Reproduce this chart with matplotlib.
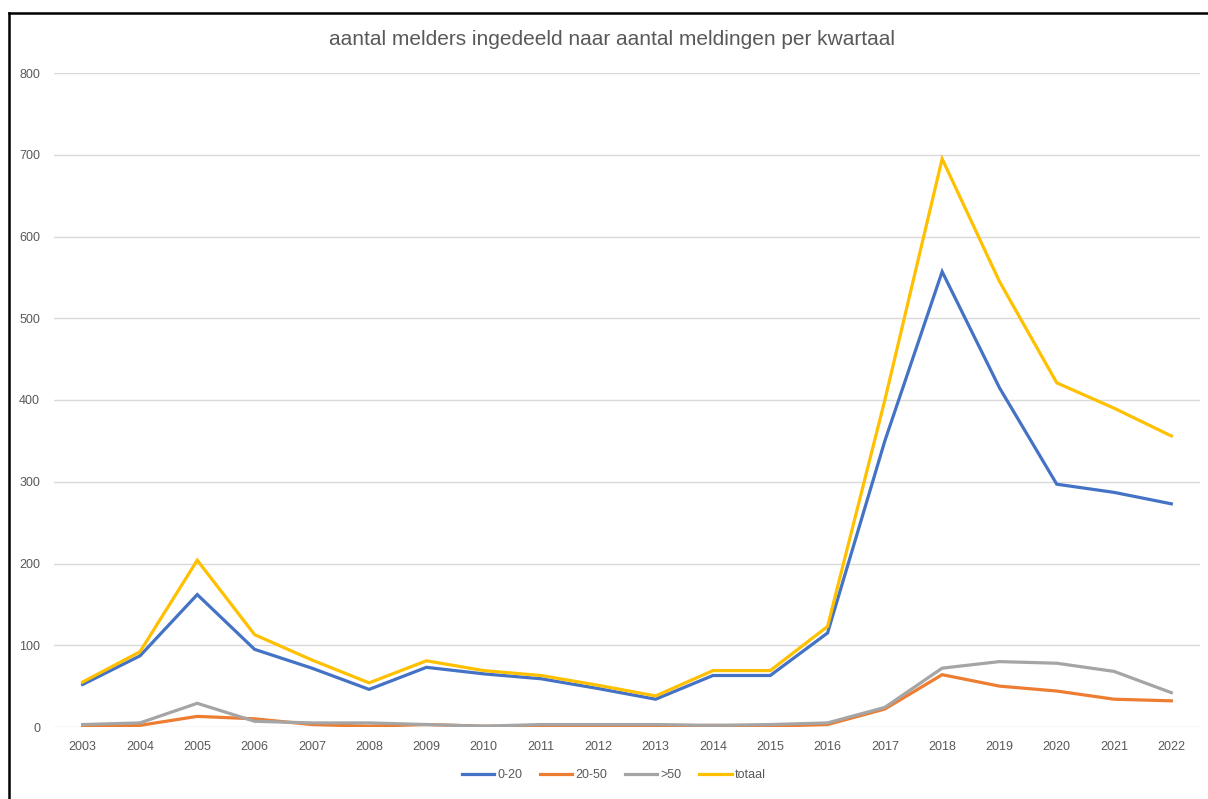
import matplotlib.pyplot as plt
from matplotlib.lines import Line2D

plt.rcParams['font.family'] = ['Liberation Sans Narrow', 'Liberation Sans', 'DejaVu Sans']

# jaren en aantallen melders per categorie
jaren = [str(j) for j in range(2003, 2023)]
melders_0_20 = [52, 87, 162, 95, 72, 46, 73, 65, 59, 47, 34, 63, 63, 115, 350, 557, 415, 297, 287, 273]
melders_20_50 = [1, 2, 13, 10, 3, 1, 3, 1, 1, 1, 1, 2, 1, 3, 22, 64, 50, 44, 34, 32]
melders_50_plus = [3, 5, 29, 7, 5, 5, 3, 1, 3, 3, 3, 2, 3, 5, 24, 72, 80, 78, 68, 42]
totaal = [55, 92, 204, 113, 82, 54, 81, 69, 63, 51, 38, 69, 69, 123, 400, 695, 545, 421, 390, 356]

series = [
    ('0-20', melders_0_20, '#4472C4'),
    ('20-50', melders_20_50, '#ED7D31'),
    ('>50', melders_50_plus, '#A5A5A5'),
    ('totaal', totaal, '#FFC000'),
]

tekst_kleur = '#595959'

fig = plt.figure(figsize=(12.08, 7.99), dpi=100)
ax = fig.add_axes([54 / 1208, 72 / 799, 1146 / 1208, 654 / 799])

x = list(range(len(jaren)))
for naam, waarden, kleur in series:
    ax.plot(x, waarden, color=kleur, linewidth=2.3, label=naam, solid_joinstyle='miter')

ax.set_xlim(-0.5, len(jaren) - 0.5)
ax.set_ylim(0, 800)
ax.set_yticks(range(0, 801, 100))
ax.set_xticks(x)
ax.set_xticklabels(jaren)
ax.tick_params(axis='both', length=0, labelsize=9, labelcolor=tekst_kleur)
ax.tick_params(axis='x', pad=10)
ax.tick_params(axis='y', pad=10)
ax.grid(axis='y', color='#d9d9d9', linewidth=1)
ax.set_axisbelow(True)
for kant in ax.spines.values():
    kant.set_visible(False)

fig.text(0.507, 0.951, 'aantal melders ingedeeld naar aantal meldingen per kwartaal',
         ha='center', va='center', fontsize=15, color=tekst_kleur)

handles = [Line2D([], [], color=k, linewidth=2.3) for _, _, k in series]
fig.legend(handles, [n for n, _, _ in series], loc='center', bbox_to_anchor=(0.508, 0.03),
           ncol=4, frameon=False, fontsize=9, handlelength=2.6, handletextpad=0.25,
           columnspacing=1.4, labelcolor=tekst_kleur)

# kader links en boven
fig.add_artist(Line2D([8.5 / 1208, 8.5 / 1208], [0, 1 - 12.5 / 799], color='black', linewidth=1.8))
fig.add_artist(Line2D([8.5 / 1208, 1], [1 - 12.5 / 799, 1 - 12.5 / 799], color='black', linewidth=1.8))

fig.savefig('out.png', dpi=100)
